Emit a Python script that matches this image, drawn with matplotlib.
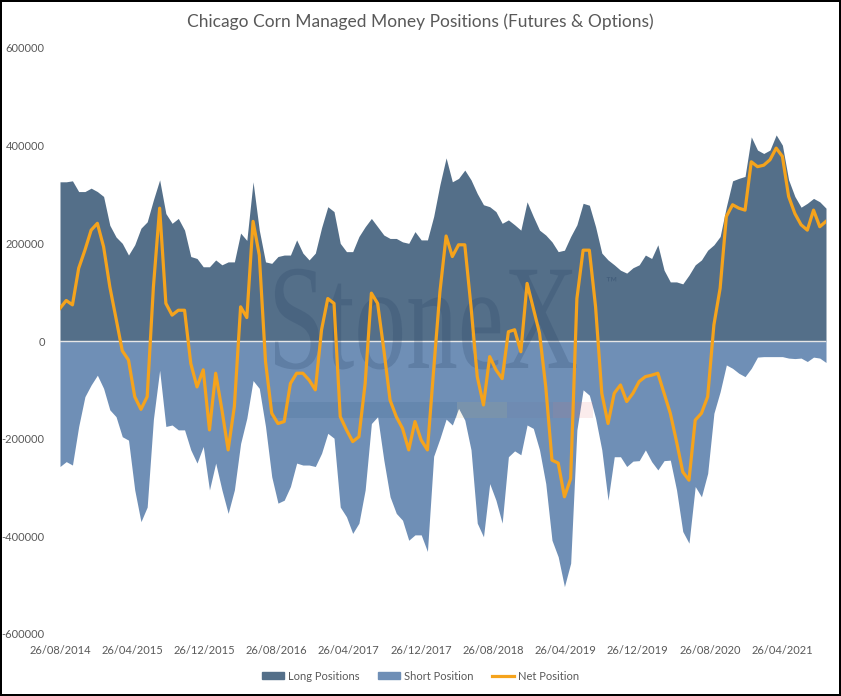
import numpy as np
import pandas as pd
import matplotlib
matplotlib.use("Agg")
import matplotlib.pyplot as plt
from matplotlib.patches import Patch, PathPatch, Rectangle
from matplotlib.lines import Line2D
from matplotlib.textpath import TextPath
from matplotlib.font_manager import FontProperties
from matplotlib.transforms import Affine2D, blended_transform_factory

plt.rcParams['font.family'] = ['Lato', 'DejaVu Sans']

# weekly COT data, read every 3 weeks from 26/08/2014 (thousand contracts)
dates = pd.date_range('2014-08-26', periods=124, freq='21D')

long_pos = [326, 326, 328, 306, 306, 313, 306, 296, 237, 213,
            200, 176, 197, 231, 244, 289, 330, 261, 241, 251,
            227, 173, 169, 152, 152, 166, 156, 162, 162, 221,
            206, 326, 227, 162, 159, 173, 176, 176, 207, 180,
            166, 180, 232, 275, 265, 200, 183, 183, 214, 234,
            251, 234, 217, 210, 210, 203, 200, 224, 207, 207,
            255, 320, 375, 326, 333, 350, 330, 302, 279, 275,
            265, 241, 248, 238, 227, 285, 255, 227, 217, 203,
            183, 186, 214, 238, 282, 278, 234, 180, 166, 156,
            145, 139, 150, 156, 176, 169, 197, 145, 121, 121,
            117, 135, 156, 166, 186, 197, 214, 275, 328, 333,
            337, 418, 391, 384, 391, 422, 401, 330, 296, 274,
            282, 292, 285, 272]

short_pos = [-257, -247, -254, -175, -114, -90, -70, -97, -141, -155,
             -196, -203, -305, -370, -340, -160, -60, -175, -172, -182,
             -182, -223, -250, -216, -305, -250, -305, -353, -305, -210,
             -158, -81, -97, -175, -278, -332, -326, -298, -250, -254,
             -254, -257, -230, -189, -199, -340, -360, -394, -373, -305,
             -169, -155, -244, -319, -353, -367, -408, -397, -397, -431,
             -236, -200, -160, -172, -138, -162, -223, -373, -401, -292,
             -326, -373, -237, -225, -233, -172, -179, -223, -292, -408,
             -442, -503, -455, -182, -100, -111, -158, -223, -326, -237,
             -237, -257, -246, -245, -223, -247, -264, -245, -244, -305,
             -390, -414, -298, -319, -271, -148, -104, -49, -56, -66,
             -73, -56, -33, -32, -32, -32, -32, -35, -36, -35,
             -42, -33, -35, -44]

net_pos = [67, 83, 74, 149, 186, 227, 241, 193, 111, 46,
           -20, -39, -114, -140, -114, 111, 272, 77, 53, 63,
           63, -46, -94, -59, -182, -66, -141, -223, -134, 70,
           48, 245, 176, -42, -148, -169, -165, -87, -66, -66,
           -80, -100, 23, 87, 77, -155, -182, -206, -196, -87,
           98, 77, -18, -121, -155, -179, -223, -165, -203, -223,
           -59, 100, 215, 173, 197, 197, 70, -73, -131, -32,
           -59, -77, 19, 23, -22, 118, 67, 16, -94, -244,
           -250, -319, -282, 87, 186, 186, 70, -107, -169, -107,
           -90, -124, -107, -83, -73, -70, -66, -107, -148, -206,
           -268, -285, -162, -148, -114, 33, 108, 255, 279, 272,
           268, 367, 357, 360, 371, 395, 378, 296, 261, 238,
           227, 268, 234, 245]

long_pos = np.array(long_pos) * 1000
short_pos = np.array(short_pos) * 1000
net_pos = np.array(net_pos) * 1000

tick_dates = pd.date_range('2014-08-26', '2021-04-26', freq=pd.DateOffset(months=8))

c_long = '#546f89'
c_short = '#6f8fb6'
c_net = '#f5a31c'
c_text = '#595959'

fig = plt.figure(figsize=(8.41, 6.96), dpi=100)
fig.patch.set_edgecolor('black')
fig.patch.set_linewidth(1.5)
ax = fig.add_axes([60 / 841, 1 - 634 / 696, 766 / 841, 586 / 696])

ax.fill_between(dates, 0, long_pos, color=c_long, lw=0, zorder=1)
ax.fill_between(dates, 0, short_pos, color=c_short, lw=0, zorder=1)
ax.axhline(0, color='#e6e6e6', lw=1, zorder=2)

# faint StoneX watermark
tp = TextPath((0, 0), "StoneX", size=150, prop=FontProperties(family='Liberation Serif'))
wm = PathPatch(tp, transform=Affine2D().scale(0.69, 1.0).translate(268, 696 - 368),
               facecolor='#1f3a5f', edgecolor='none', alpha=0.2, zorder=2.5)
ax.add_patch(wm)
fig.text(605 / 841, 1 - 284 / 696, '™', fontsize=11, color='#1f3a5f', alpha=0.3,
         va='center', ha='left')
bt = blended_transform_factory(fig.transFigure, fig.transFigure)
for x0, x1, col in [(270, 457, '#1f4e79'), (457, 507, '#c8b26a'),
                    (507, 553, '#6f6f9a'), (553, 593, '#e06666')]:
    ax.add_patch(Rectangle((x0 / 841, 1 - 418 / 696), (x1 - x0) / 841, 16 / 696,
                           transform=bt, facecolor=col, alpha=0.12, lw=0, zorder=2.5))

ax.plot(dates, net_pos, color=c_net, lw=2.3, zorder=3, solid_joinstyle='round')

ax.set_ylim(-600000, 600000)
ax.set_yticks(np.arange(-600000, 600001, 200000))
ax.set_yticklabels([str(v) for v in np.arange(-600000, 600001, 200000)])
ax.set_xlim(dates[0], dates[-1])
ax.set_xticks(tick_dates)
ax.set_xticklabels([d.strftime('%d/%m/%Y') for d in tick_dates])
ax.tick_params(axis='both', length=0, labelsize=8, labelcolor=c_text)
ax.tick_params(axis='x', pad=8)
ax.tick_params(axis='y', pad=11)
for s in ax.spines.values():
    s.set_visible(False)

fig.text(0.5, 1 - 22 / 696, 'Chicago Corn Managed Money Positions (Futures & Options)',
         ha='center', va='center', fontsize=12.5, color=c_text)

handles = [Patch(color=c_long, label='Long Positions'),
           Patch(color=c_short, label='Short Position'),
           Line2D([], [], color=c_net, lw=2.3, label='Net Position')]
fig.legend(handles=handles, loc='center', bbox_to_anchor=(0.5, 1 - 676 / 696), ncol=3,
           frameon=False, fontsize=8, labelcolor=c_text, handlelength=2.0,
           handleheight=0.6, columnspacing=1.6, handletextpad=0.4)

fig.savefig('out.png', dpi=100)
